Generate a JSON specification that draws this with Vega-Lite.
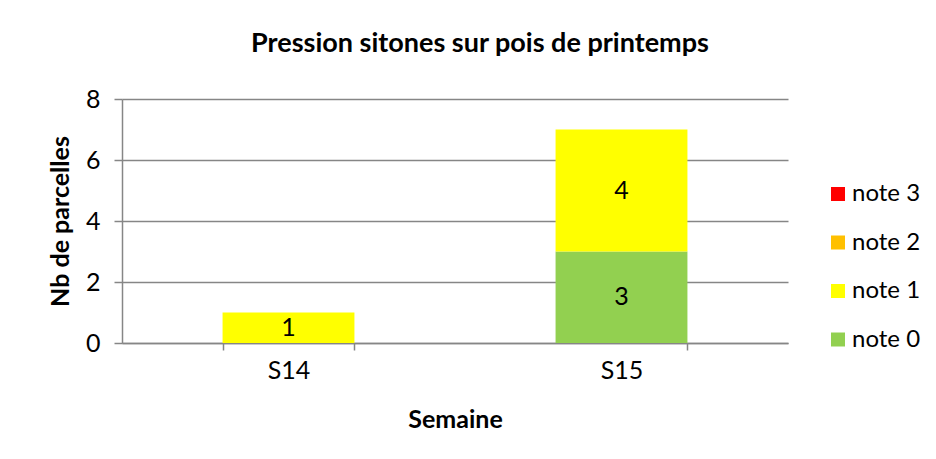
{
  "$schema": "https://vega.github.io/schema/vega-lite/v6.json",
  "autosize": {"type": "none"},
  "width": 666,
  "height": 244,
  "padding": {"left": 122, "top": 99, "right": 148, "bottom": 116},
  "background": "white",
  "config": {
    "font": "Lato",
    "view": {"stroke": null}
  },
  "title": {
    "text": "Pression sitones sur pois de printemps",
    "font": "Lato",
    "fontSize": 27,
    "fontWeight": "bold",
    "color": "black",
    "anchor": "middle",
    "dx": 25,
    "offset": 29
  },
  "data": {
    "values": [
      {"semaine": "S14", "note": "note 1", "n": 1},
      {"semaine": "S15", "note": "note 0", "n": 3},
      {"semaine": "S15", "note": "note 1", "n": 4}
    ]
  },
  "layer": [
    {
      "mark": {"type": "bar"},
      "encoding": {
        "x": {
          "field": "semaine",
          "type": "nominal",
          "scale": {"paddingInner": 0.604, "paddingOuter": 0.302},
          "axis": {
            "title": "Semaine",
            "titleFontSize": 25,
            "titleFontWeight": "bold",
            "titleColor": "black",
            "titlePadding": 24,
            "labelAngle": 0,
            "labelFontSize": 25,
            "labelColor": "black",
            "labelPadding": 8,
            "tickBand": "extent",
            "tickSize": 7,
            "tickColor": "#868686",
            "domainColor": "#868686",
            "tickWidth": 1.5,
            "domainWidth": 1.5
          }
        },
        "y": {
          "field": "n",
          "type": "quantitative",
          "stack": "zero",
          "scale": {"domain": [0, 8]},
          "axis": {
            "title": "Nb de parcelles",
            "titleFontSize": 25,
            "titleFontWeight": "bold",
            "titleColor": "black",
            "titlePadding": 12,
            "values": [0, 2, 4, 6, 8],
            "labelFontSize": 25,
            "labelColor": "black",
            "labelPadding": 14,
            "tickSize": 8,
            "tickColor": "#868686",
            "domainColor": "#868686",
            "gridColor": "#868686",
            "tickWidth": 1.5,
            "domainWidth": 1.5,
            "gridWidth": 1.5
          }
        },
        "order": {"field": "note", "sort": "ascending"},
        "color": {
          "field": "note",
          "type": "nominal",
          "scale": {
            "domain": ["note 3", "note 2", "note 1", "note 0"],
            "range": ["#FF0000", "#FFC000", "#FFFF00", "#92D050"]
          },
          "legend": {
            "title": null,
            "orient": "none",
            "legendX": 704,
            "legendY": 83,
            "symbolType": "square",
            "symbolSize": 196,
            "symbolStrokeWidth": 0,
            "labelFontSize": 24,
            "labelColor": "black",
            "labelOffset": 2,
            "rowPadding": 24.5
          }
        }
      }
    },
    {
      "transform": [
        {"stack": "n", "groupby": ["semaine"], "sort": [{"field": "note", "order": "ascending"}], "as": ["y0", "y1"]},
        {"calculate": "(datum.y0 + datum.y1) / 2", "as": "ymid"}
      ],
      "mark": {"type": "text", "fontSize": 25, "color": "black", "baseline": "middle"},
      "encoding": {
        "x": {"field": "semaine", "type": "nominal"},
        "y": {"field": "ymid", "type": "quantitative"},
        "text": {"field": "n", "type": "quantitative"}
      }
    }
  ]
}
